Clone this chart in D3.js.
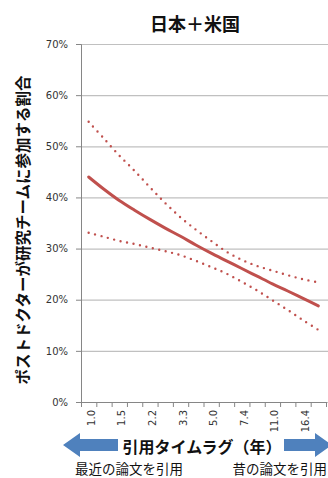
<!DOCTYPE html>
<html>
<head>
<meta charset="utf-8">
<script src="https://cdn.jsdelivr.net/npm/d3@7"></script>
<style>
body { margin:0; background:#fff; }
.ylab text, .xlab text { font-family:"DejaVu Sans", sans-serif; font-size:10px; fill:#333; }
.jp { font-family:"Noto Sans CJK JP", sans-serif; fill:#111; }
</style>
</head>
<body>
<svg id="myGraph" width="328" height="478"></svg>
<script>
// 引用タイムラグ（年）のカテゴリ
var lagYears = ["1.0","1.2","1.5","1.8","2.2","2.7","3.3","4.1","5.0","6.0","7.4","9.0","11.0","13.5","16.4","20.1"];
// 推定値
var estimate = [0.440,0.416,0.394,0.375,0.357,0.340,0.324,0.307,0.291,0.276,0.261,0.246,0.231,0.217,0.2025,0.188];
// 上側信頼区間
var upperCI = [0.548,0.515,0.482,0.452,0.420,0.389,0.361,0.337,0.315,0.294,0.278,0.266,0.257,0.248,0.240,0.234];
// 下側信頼区間
var lowerCI = [0.331,0.323,0.315,0.309,0.302,0.295,0.287,0.276,0.264,0.251,0.235,0.218,0.199,0.180,0.160,0.141];
var yTicks = [0,0.1,0.2,0.3,0.4,0.5,0.6,0.7];

window.addEventListener("load",function(){
var svg = d3.select("#myGraph");
var plotLeft = 81, plotRight = 326, plotTop = 44, plotBottom = 402;
var red = "#c0504d", blue = "#4f81bd";

var xScale = d3.scaleBand().domain(lagYears).range([plotLeft, plotRight]).paddingInner(0).paddingOuter(0);
var xEdge = d3.scaleLinear().domain([0, lagYears.length]).range([plotLeft, plotRight]);
var yScale = d3.scaleLinear().domain([0, 0.7]).range([plotBottom, plotTop]);

// グリッド線
svg.append("g")
  .attr("transform","translate("+plotLeft+",0)")
  .call(d3.axisRight(yScale).tickValues(yTicks).tickSize(plotRight-plotLeft+2).tickFormat(""))
  .call(function(g){ g.select(".domain").remove(); g.selectAll("line").attr("stroke","#c0c0c0").attr("stroke-width",1.2); });

// 縦軸
svg.append("g").attr("class","ylab")
  .attr("transform","translate("+plotLeft+",0)")
  .call(d3.axisLeft(yScale).tickValues(yTicks).tickSize(5).tickPadding(8).tickFormat(d3.format(".0%")))
  .call(function(g){ g.selectAll("path,line").attr("stroke","#868686"); });

// 横軸 目盛り
svg.append("g")
  .attr("transform","translate(0,"+plotBottom+")")
  .call(d3.axisBottom(xEdge).ticks(lagYears.length).tickSize(5).tickFormat(""))
  .call(function(g){ g.selectAll("path,line").attr("stroke","#868686"); });

// 横軸 ラベル
svg.append("g").attr("class","xlab")
  .attr("transform","translate(0,"+plotBottom+")")
  .call(d3.axisBottom(xScale).tickSize(0).tickFormat(function(d,i){ return i%2==0 ? d : ""; }))
  .call(function(g){
    g.select(".domain").remove();
    g.selectAll("text").attr("transform","rotate(-90)").attr("x",-8).attr("y",0).attr("dy","0.6em").style("text-anchor","end");
  });

// 折れ線
var line = function(data){
  return d3.line()
    .x(function(d,i){ return xScale(lagYears[i]) + xScale.bandwidth()/2; })
    .y(function(d){ return yScale(d); })
    .curve(d3.curveCatmullRom)(data);
};
svg.append("path").attr("d", line(upperCI)).attr("fill","none").attr("stroke",red)
  .attr("stroke-width",2.4).attr("stroke-linecap","round").attr("stroke-dasharray","0,6.6");
svg.append("path").attr("d", line(lowerCI)).attr("fill","none").attr("stroke",red)
  .attr("stroke-width",2.4).attr("stroke-linecap","round").attr("stroke-dasharray","0,6.6");
svg.append("path").attr("d", line(estimate)).attr("fill","none").attr("stroke",red)
  .attr("stroke-width",3).attr("stroke-linecap","round");

// タイトル
svg.append("text").attr("class","jp").attr("x",195).attr("y",31).attr("text-anchor","middle")
  .style("font-size","18px").style("font-weight","bold").text("日本＋米国");

// 縦軸タイトル
svg.append("text").attr("class","jp").attr("transform","translate(29,230) rotate(-90)").attr("text-anchor","middle")
  .style("font-size","15.5px").style("font-weight","bold").text("ポストドクターが研究チームに参加する割合");

// 矢印
svg.append("path").attr("fill",blue)
  .attr("d","M63,445 L80,433 L80,439 L118,439 L118,451 L80,451 L80,457 Z");
svg.append("path").attr("fill",blue)
  .attr("d","M284,439 L315,439 L315,433 L332,445 L315,457 L315,451 L284,451 Z");

svg.append("text").attr("class","jp").attr("x",202).attr("y",453).attr("text-anchor","middle")
  .style("font-size","16px").style("font-weight","bold").text("引用タイムラグ（年）");

svg.append("text").attr("class","jp").attr("x",75).attr("y",474)
  .style("font-size","13.5px").text("最近の論文を引用");
svg.append("text").attr("class","jp").attr("x",327).attr("y",474).attr("text-anchor","end")
  .style("font-size","13.5px").text("昔の論文を引用");
});
</script>
</body>
</html>
